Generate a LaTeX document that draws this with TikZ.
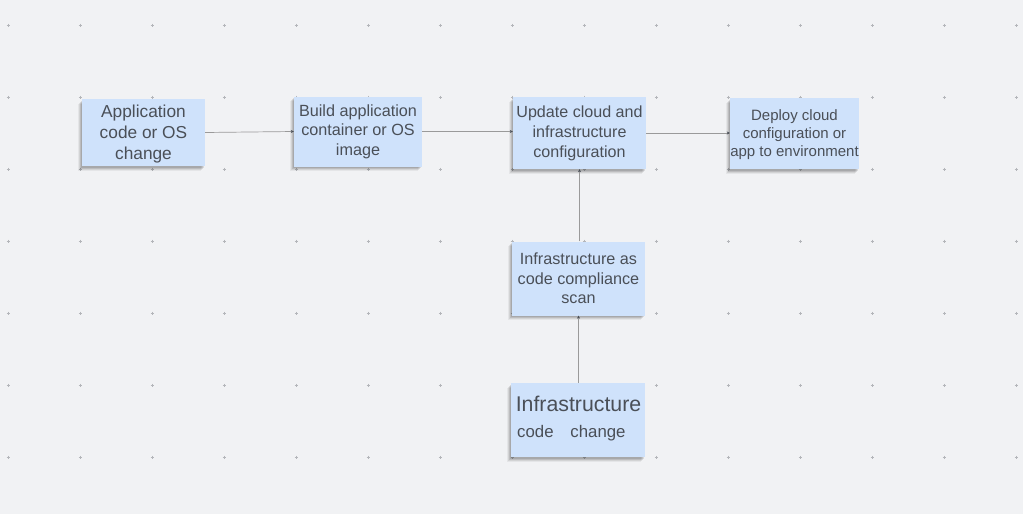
\documentclass[tikz,border=0pt]{standalone}
\usepackage{fontspec}
\setmainfont{Liberation Sans}
\usetikzlibrary{arrows.meta,shadows}
\definecolor{bg}{HTML}{F1F2F4}
\definecolor{note}{HTML}{CFE2FB}
\definecolor{ink}{HTML}{4A4F57}
\definecolor{wire}{HTML}{9A9A9A}
\definecolor{dotc}{HTML}{B4B6BA}
\tikzset{
  sticky/.style={fill=note, draw=none, align=center, text=ink, inner sep=0pt,
    drop shadow={shadow xshift=-1.5pt, shadow yshift=-1.5pt, opacity=0.10, fill=black},
    drop shadow={shadow xshift=-2.5pt, shadow yshift=-2.5pt, opacity=0.10, fill=black},
    drop shadow={shadow xshift=-3.5pt, shadow yshift=-3.5pt, opacity=0.08, fill=black},
    drop shadow={shadow xshift=-4.5pt, shadow yshift=-4.5pt, opacity=0.05, fill=black}},
  wireline/.style={draw=wire, line width=0.7pt, -{Stealth[length=3pt,width=3pt,fill=ink,color=ink]}},
}
\begin{document}
\begin{tikzpicture}[x=1pt,y=-1pt]
\useasboundingbox (0,0) rectangle (1023,514);
\fill[bg] (0,0) rectangle (1023,514);
\foreach \i in {0,...,14}{
  \foreach \j in {0,...,6}{
    \draw[dotc, line width=0.5pt] ({8+72*\i-1.5},{25+72*\j}) -- ++(3,0)
      ({8+72*\i},{25+72*\j-1.5}) -- ++(0,3);
  }
}
\node[sticky, minimum width=123pt, minimum height=67pt] (a) at (143.5,132.5) {};
\node[text=ink, align=center, inner sep=0pt, font=\fontsize{17.3}{21}\selectfont] (at) at (143.5,134.5) {Application\\code or OS\\change};
\node[sticky, minimum width=128pt, minimum height=70pt, font=\fontsize{16.2}{19.5}\selectfont] (b) at (358,131.5) {Build application\\container or OS\\image};
\node[sticky, minimum width=133pt, minimum height=72pt, font=\fontsize{16.1}{20}\selectfont] (c) at (579.5,133) {Update cloud and\\infrastructure\\configuration};
\node[sticky, minimum width=129pt, minimum height=71pt] (d) at (794.5,133.5) {};
\node[text=ink, align=center, inner sep=0pt, font=\fontsize{15}{18}\selectfont] (dt) at (794.5,135) {Deploy cloud\\configuration or\\app to environment};
\node[sticky, minimum width=133pt, minimum height=74pt, font=\fontsize{16.2}{19.5}\selectfont] (e) at (578.5,278.5) {Infrastructure as\\code compliance\\scan};
\node[sticky, minimum width=134pt, minimum height=74pt] (f) at (578,420) {};
\node[text=ink, font=\fontsize{21.3}{24}\selectfont, anchor=base] (f1) at (578.5,411) {Infrastructure};
\node[text=ink, font=\fontsize{16.8}{20}\selectfont, anchor=base west, inner sep=0pt] (f2) at (517,437) {code\hspace{1em}change};
\draw[wireline] (a.east) -- (b.west);
\draw[wireline] (b.east) -- (b.east -| c.west);
\draw[wireline] (c.east) -- (c.east -| d.west);
\draw[wireline] (e.north -| c.south) -- (c.south);
\draw[wireline] (f.north -| e.south) -- (e.south);
\end{tikzpicture}
\end{document}
